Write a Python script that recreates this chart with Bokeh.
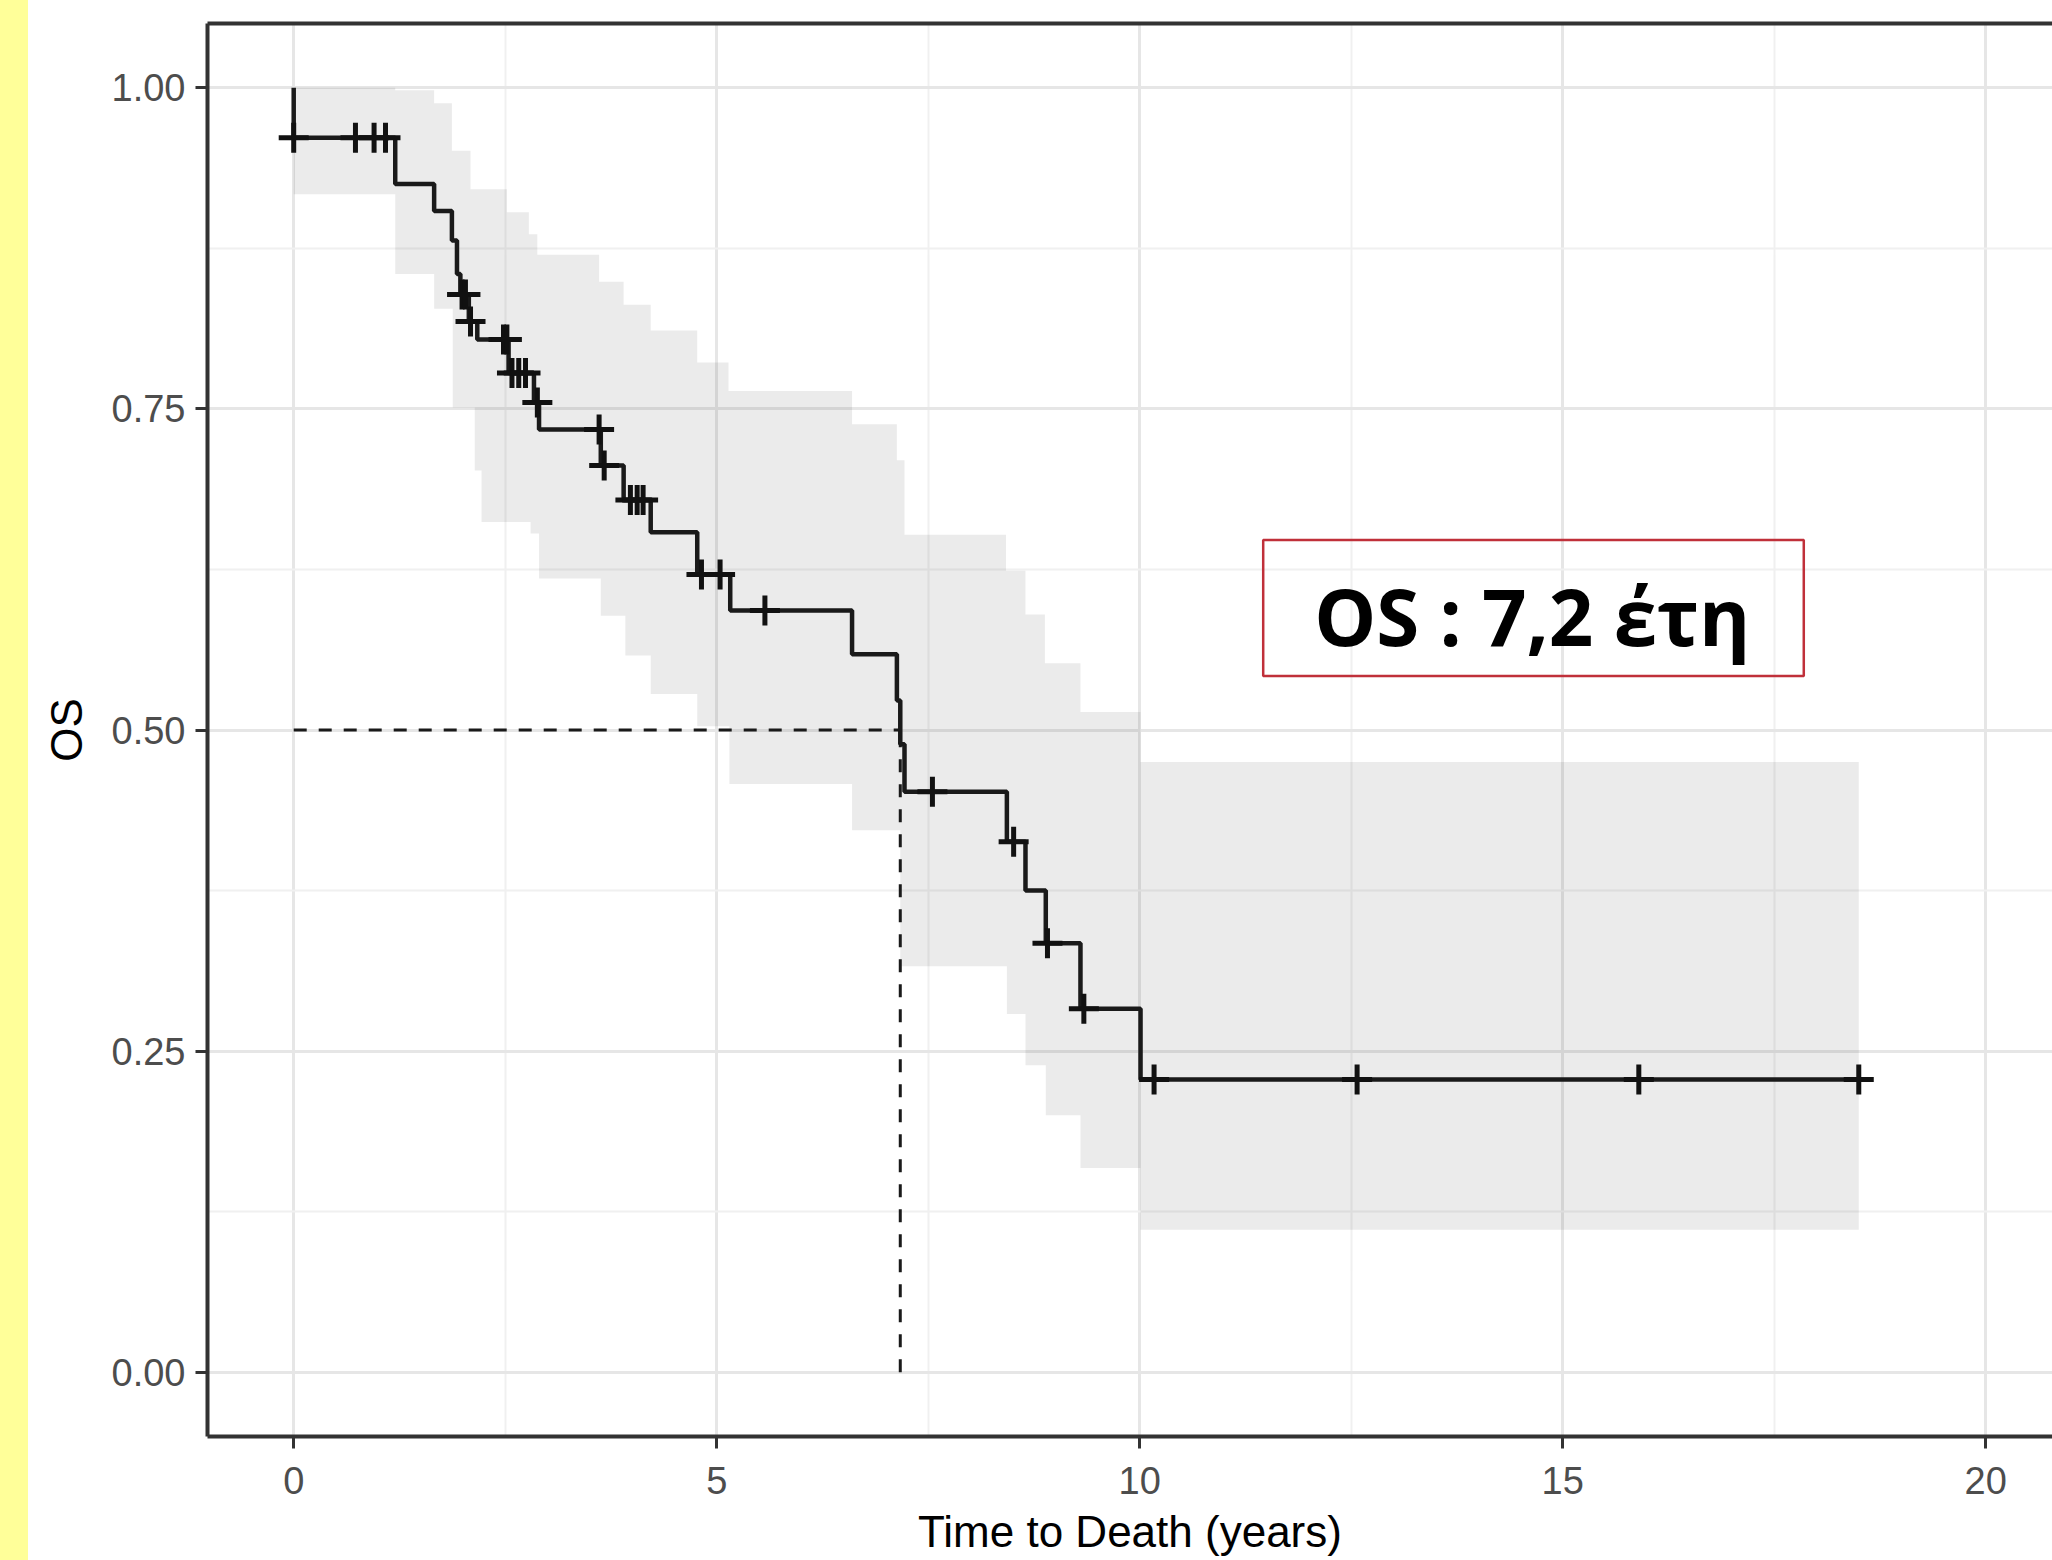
import numpy as np
from bokeh.plotting import figure
from bokeh.models import (Range1d, FixedTicker, LinearAxis, BoxAnnotation, Label,
                          PrintfTickFormatter, Div)
from bokeh.layouts import row
from bokeh.embed import file_html
from bokeh.resources import INLINE

# ---------------- data ----------------
# Kaplan-Meier step times and survival level after each step
event_times = [0.0, 1.20, 1.66, 1.87, 1.93, 1.97, 2.07, 2.17, 2.54, 2.84, 2.90,
               3.63, 3.90, 4.22, 4.77, 5.16, 6.60, 7.13, 7.17, 7.22, 8.43,
               8.65, 8.89, 9.30, 10.01]
surv_after = [0.961, 0.925, 0.904, 0.881, 0.855, 0.839, 0.818, 0.804, 0.778,
              0.755, 0.734, 0.706, 0.679, 0.654, 0.621, 0.593, 0.559, 0.523,
              0.489, 0.452, 0.413, 0.375, 0.334, 0.283, 0.228]
last_time = 18.5
censor_times = [0.0, 0.73, 0.95, 1.085, 1.99, 2.03, 2.09, 2.48, 2.52, 2.58,
                2.66, 2.74, 2.88, 3.61, 3.67, 3.98, 4.06, 4.13, 4.82, 5.04,
                5.57, 7.55, 8.51, 8.91, 9.34, 10.17, 12.57, 15.90, 18.50]

# 95% confidence band (step functions)
upper_t = [0.0, 1.20, 1.66, 1.87, 2.09, 2.52, 2.78, 2.88, 3.61, 3.90, 4.22,
           4.77, 5.14, 6.60, 7.13, 7.22, 8.42, 8.65, 8.88, 9.30, 10.01]
upper_v = [1.0, 0.998, 0.988, 0.951, 0.921, 0.903, 0.886, 0.870, 0.849, 0.831,
           0.811, 0.786, 0.764, 0.738, 0.710, 0.652, 0.624, 0.590, 0.552,
           0.514, 0.475]
lower_t = [0.0, 1.20, 1.66, 1.88, 2.14, 2.22, 2.80, 2.90, 3.63, 3.92, 4.22,
           4.77, 5.15, 6.60, 7.17, 8.43, 8.65, 8.89, 9.30, 10.01]
lower_v = [0.917, 0.855, 0.828, 0.751, 0.702, 0.662, 0.653, 0.618, 0.589,
           0.558, 0.528, 0.503, 0.458, 0.422, 0.316, 0.279, 0.239, 0.200,
           0.159, 0.111]

median_time = 7.17
median_level = 0.5

x_ticks = [0, 5, 10, 15, 20]
x_minor = [2.5, 7.5, 12.5, 17.5]
y_ticks = [0.0, 0.25, 0.5, 0.75, 1.0]
y_minor = [0.125, 0.375, 0.625, 0.875]

x_title = "Time to Death (years)"
y_title = "OS"
note_text = "OS : 7,2 έτη"

# ---------------- derived geometry ----------------
ut = np.array(upper_t); uv = np.array(upper_v)
lt = np.array(lower_t); lv = np.array(lower_v)
bt = np.array(sorted(set(upper_t) | set(lower_t)))
b_up = uv[np.searchsorted(ut, bt, side="right") - 1]
b_lo = lv[np.searchsorted(lt, bt, side="right") - 1]
edges = np.append(bt, last_time)
band_x = np.repeat(edges, 2)[1:-1]
band_up = np.repeat(b_up, 2)
band_lo = np.repeat(b_lo, 2)

curve_x = [0.0] + event_times + [last_time]
curve_y = [1.0] + surv_after + [surv_after[-1]]

et = np.array(event_times); sv = np.array(surv_after)
cens_y = sv[np.searchsorted(et, np.array(censor_times), side="right") - 1]

# ---------------- figure ----------------
AX = "#333333"
p = figure(width=2024, height=1560, output_backend="svg", toolbar_location=None,
           x_range=Range1d(-1.019, 20.79), y_range=Range1d(-0.05, 1.05),
           min_border_left=179, min_border_right=0, min_border_top=23,
           min_border_bottom=124, background_fill_color="white",
           border_fill_color="white", outline_line_color=None)

for ax in (p.xaxis[0], p.yaxis[0]):
    ax.axis_line_color = AX
    ax.axis_line_width = 4
    ax.major_tick_line_color = AX
    ax.major_tick_line_width = 3
    ax.major_tick_out = 12
    ax.major_tick_in = 0
    ax.minor_tick_line_color = None
    ax.major_label_text_font = "Liberation Sans"
    ax.major_label_text_font_size = "38px"
    ax.major_label_text_color = "#4D4D4D"
    ax.axis_label_text_font = "Liberation Sans"
    ax.axis_label_text_font_size = "44px"
    ax.axis_label_text_font_style = "normal"
    ax.axis_label_text_color = "#000000"

p.xaxis[0].ticker = FixedTicker(ticks=x_ticks, minor_ticks=x_minor)
p.yaxis[0].ticker = FixedTicker(ticks=y_ticks, minor_ticks=y_minor)
p.yaxis[0].formatter = PrintfTickFormatter(format="%.2f")
p.xaxis[0].axis_label = x_title
p.yaxis[0].axis_label = y_title
p.xaxis[0].major_label_standoff = 18
p.xaxis[0].axis_label_standoff = 10
p.yaxis[0].major_label_standoff = 10
p.yaxis[0].axis_label_standoff = 18

top = LinearAxis(ticker=FixedTicker(ticks=[]), axis_line_color=AX, axis_line_width=4,
                 major_tick_line_color=None, minor_tick_line_color=None,
                 major_tick_out=0, major_tick_in=0, major_label_standoff=0,
                 major_label_text_font_size="0px")
p.add_layout(top, "above")

for g in (p.xgrid[0], p.ygrid[0]):
    g.grid_line_color = "#E6E6E6"
    g.grid_line_width = 3
    g.minor_grid_line_color = "#F0F0F0"
    g.minor_grid_line_width = 2

# confidence band
p.varea(x=band_x, y1=band_lo, y2=band_up, fill_color="#000000", fill_alpha=0.08)

# median guide lines
p.line([0, median_time], [median_level, median_level], line_color="#1A1A1A",
       line_width=3, line_dash="13 12")
p.line([median_time, median_time], [0, median_level], line_color="#1A1A1A",
       line_width=3, line_dash="13 12")

# survival curve
p.step(curve_x, curve_y, mode="after", line_color="#1A1A1A", line_width=4.5)

# censor marks
p.scatter(censor_times, cens_y, marker="cross", size=30, line_color="#111111",
          line_width=5)

# annotation box
box = BoxAnnotation(left=11.46, right=17.85, bottom=0.542, top=0.648,
                    fill_alpha=0, line_color="#C0303A", line_alpha=1.0,
                    line_width=2.5)
p.add_layout(box)
lab = Label(x=14.64, y=0.589, text=note_text, text_font="Open Sans",
            text_font_style="bold", text_font_size="78px", text_color="#000000",
            text_align="center", text_baseline="alphabetic")
p.add_layout(lab)

strip = Div(width=28, height=1560, margin=0,
            styles={"background-color": "#FFFF99"})
layout = row(strip, p)

open("out.html", "w").write(file_html(layout, INLINE))
